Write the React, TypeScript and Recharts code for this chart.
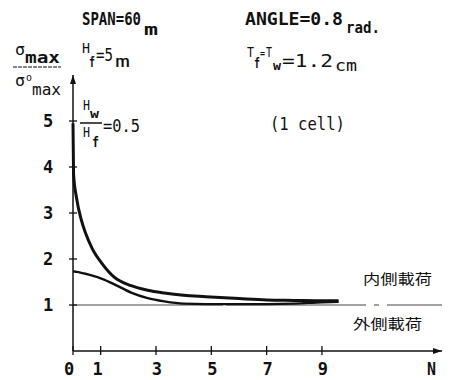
import { LineChart, Line, XAxis, YAxis, ReferenceLine, ReferenceDot } from "recharts";

// N (number of stiffeners) and the stress ratio for both load cases
const nValues = [0, 0.02, 0.13, 0.3, 0.45, 0.7, 1.05, 1.5, 2.1, 2.7, 3.3, 4, 4.8, 6, 7, 8, 9, 9.6];
const innerLoad = [4.95, 3.85, 3.32, 2.85, 2.57, 2.22, 1.9, 1.6, 1.42, 1.32, 1.26, 1.21, 1.18, 1.14, 1.11, 1.1, 1.09, 1.09];
const outerLoad = [1.73, 1.73, 1.72, 1.7, 1.68, 1.64, 1.57, 1.45, 1.27, 1.15, 1.08, 1.03, 1.02, 1.02, 1.02, 1.03, 1.06, 1.07];
const xTicks = [0, 1, 3, 5, 7, 9];
const yTicks = [1, 2, 3, 4, 5];
const X_MAX = 13.34;
const Y_MAX = 6;

const data = nValues.map((n, i) => ({ n, inner: innerLoad[i], outer: outerLoad[i] }));

const INK = "#111";
const MONO = "'DejaVu Sans Mono', monospace";
const CJK = "'Noto Sans CJK JP', 'Noto Sans CJK SC', sans-serif";

const YTick = ({ x, y, payload }: any) => (
  <g>
    <line x1={x - 4} x2={x + 4} y1={y} y2={y} stroke={INK} strokeWidth={1.3} />
    <text x={x - 25} y={y + 6} textAnchor="middle" fontFamily={MONO} fontWeight={700} fontSize={17} fill={INK}>
      {payload.value}
    </text>
  </g>
);

const XTick = ({ x, y, payload }: any) => {
  const dx = payload.value === 0 ? -4 : payload.value === 1 ? -3 : 1;
  return (
    <g>
      <line x1={x} x2={x} y1={y - 5} y2={y + 4} stroke={INK} strokeWidth={1.3} />
      <text x={x + dx} y={y + 24} textAnchor="middle" fontFamily={MONO} fontWeight={700} fontSize={17} fill={INK}>
        {payload.value}
      </text>
    </g>
  );
};

const ArrowRight = ({ cx, cy }: any) => (
  <polygon points={`${cx},${cy} ${cx - 9},${cy - 3} ${cx - 9},${cy + 3}`} fill={INK} />
);
const ArrowUp = ({ cx, cy }: any) => (
  <polygon points={`${cx},${cy} ${cx - 3},${cy + 9} ${cx + 3},${cy + 9}`} fill={INK} />
);

function T({ x, y, w, size = 17, bold = false, family = MONO, children }: any) {
  return (
    <text
      x={x}
      y={y}
      fontSize={size}
      fontWeight={bold ? 700 : 400}
      fontFamily={family}
      fill={INK}
      textLength={w}
      lengthAdjust="spacingAndGlyphs"
    >
      {children}
    </text>
  );
}

export default function App() {
  return (
    <div style={{ position: "fixed", left: 0, top: 0, width: 456, height: 380, background: "#fff" }}>
      <LineChart width={456} height={380} data={data} margin={{ top: 75, right: 14, left: 0, bottom: 0 }}>
        <XAxis
          type="number"
          dataKey="n"
          domain={[0, X_MAX]}
          ticks={xTicks}
          height={29}
          tickSize={0}
          tickMargin={0}
          tickLine={false}
          axisLine={{ stroke: INK, strokeWidth: 1.5 }}
          tick={<XTick />}
        />
        <YAxis
          type="number"
          domain={[0, Y_MAX]}
          ticks={yTicks}
          width={73}
          tickSize={0}
          tickMargin={0}
          tickLine={false}
          axisLine={{ stroke: INK, strokeWidth: 1.5 }}
          tick={<YTick />}
        />
        <ReferenceLine y={1} stroke="#444" strokeWidth={1} strokeDasharray="150 3 140 8 5 8 60" />
        <ReferenceDot x={X_MAX} y={0} r={0} shape={<ArrowRight />} ifOverflow="visible" />
        <ReferenceDot x={0} y={Y_MAX} r={0} shape={<ArrowUp />} ifOverflow="visible" />
        <Line
          type="monotone"
          dataKey="inner"
          name="内側載荷"
          stroke={INK}
          strokeWidth={3}
          dot={false}
          isAnimationActive={false}
        />
        <Line
          type="monotone"
          dataKey="outer"
          name="外側載荷"
          stroke={INK}
          strokeWidth={2.4}
          dot={false}
          isAnimationActive={false}
        />
      </LineChart>

      <svg width={456} height={380} style={{ position: "absolute", left: 0, top: 0, pointerEvents: "none" }}>
        {/* header */}
        <T x={82} y={25} w={59} size={18} bold>SPAN=60</T>
        <T x={144} y={35} w={14} size={15} bold>m</T>
        <T x={245} y={25} w={98} size={18} bold>ANGLE=0.8</T>
        <T x={346} y={33} w={34} size={15} bold>rad.</T>

        <T x={82} y={53} w={8} size={14}>H</T>
        <T x={89} y={67} w={6} size={14} bold>f</T>
        <T x={96} y={61} w={17} size={17}>=5</T>
        <T x={115} y={67} w={15} size={15}>m</T>

        <T x={247} y={57} w={7} size={14}>T</T>
        <T x={254} y={68} w={6} size={14} bold>f</T>
        <T x={260} y={57} w={5} size={13}>=</T>
        <T x={266} y={57} w={6} size={14}>T</T>
        <T x={273} y={70} w={8} size={13} bold>w</T>
        <T x={282} y={67} w={51} size={18}>=1.2</T>
        <T x={335} y={71} w={22} size={15}>cm</T>

        {/* y axis title */}
        <T x={15} y={55} w={10} size={15}>σ</T>
        <T x={25} y={63} w={35} size={16} bold>max</T>
        <line x1={13} x2={61} y1={67} y2={67} stroke={INK} strokeWidth={1.2} strokeDasharray="4 1" />
        <T x={15} y={86} w={10} size={15}>σ</T>
        <T x={26} y={81} w={6} size={10}>o</T>
        <T x={32} y={95} w={29} size={15}>max</T>

        {/* Hw / Hf */}
        <T x={83} y={110} w={7} size={14}>H</T>
        <T x={90} y={118} w={9} size={13} bold>w</T>
        <line x1={80} x2={102} y1={123} y2={123} stroke={INK} strokeWidth={1.5} />
        <T x={103} y={132} w={37} size={17}>=0.5</T>
        <T x={83} y={137} w={7} size={14}>H</T>
        <T x={92} y={147} w={7} size={14} bold>f</T>

        <T x={270} y={130} w={75} size={17}>(1 cell)</T>

        <T x={363} y={284} w={69} size={14} family={CJK}>内側載荷</T>
        <T x={353} y={329} w={69} size={14} family={CJK}>外側載荷</T>
        <T x={427} y={375} w={9} size={17} bold>N</T>
      </svg>
    </div>
  );
}
